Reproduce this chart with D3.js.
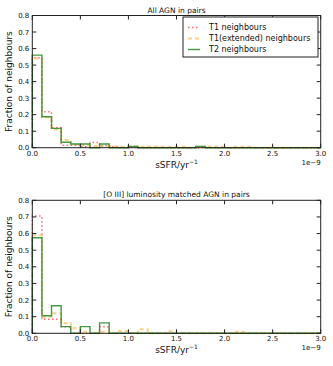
<!DOCTYPE html>
<html>
<head>
<meta charset="utf-8">
<script src="https://cdn.jsdelivr.net/npm/d3@7"></script>
<style>
  body { margin: 0; background: #fff; }
  text { font-family: "DejaVu Sans", sans-serif; fill: #111; }
</style>
</head>
<body>
<div id="vis"></div>
<script>
// bin edges: 30 bins of 0.1e-9 from 0 to 3.0e-9
const binEdges = d3.range(0, 31).map(i => i / 10);
const xTicks = [0, 0.5, 1.0, 1.5, 2.0, 2.5, 3.0];
const yTicks = [0, 0.1, 0.2, 0.3, 0.4, 0.5, 0.6, 0.7, 0.8];
const seriesNames = ['T1 neighbours', 'T1(extended) neighbours', 'T2 neighbours'];

// All AGN in pairs
const allT1 = [0.545, 0.218, 0.12, 0.015, 0.015, 0.005, 0.032, 0.012, 0.005, 0, 0.004, 0, 0, 0, 0, 0, 0, 0, 0, 0, 0, 0, 0, 0, 0, 0, 0, 0, 0, 0];
const allT1ext = [0.54, 0.185, 0.11, 0.047, 0.02, 0.015, 0.01, 0.008, 0.008, 0.005, 0.008, 0.005, 0.008, 0.005, 0.005, 0.005, 0, 0.005, 0.008, 0.005, 0, 0.005, 0.005, 0, 0, 0, 0, 0, 0, 0];
const allT2 = [0.56, 0.187, 0.117, 0.033, 0.022, 0.022, 0, 0.022, 0, 0, 0.008, 0, 0, 0, 0, 0, 0, 0.008, 0, 0, 0, 0, 0, 0, 0, 0, 0, 0, 0, 0];

// [O III] luminosity matched AGN in pairs
const oiiiT1 = [0.705, 0.085, 0.085, 0.04, 0, 0, 0, 0.04, 0, 0, 0, 0, 0, 0, 0, 0, 0, 0, 0, 0, 0, 0, 0, 0, 0, 0, 0, 0, 0, 0];
const oiiiT1ext = [0.59, 0.1, 0.12, 0.06, 0.03, 0.01, 0, 0.01, 0, 0.014, 0, 0.024, 0, 0, 0.012, 0, 0, 0, 0, 0, 0, 0.01, 0, 0, 0, 0, 0, 0, 0, 0];
const oiiiT2 = [0.575, 0.106, 0.166, 0.04, 0, 0.04, 0, 0.063, 0, 0, 0, 0, 0, 0, 0, 0, 0, 0, 0, 0, 0, 0, 0, 0, 0, 0, 0, 0, 0, 0];

const styles = [
  {color: '#ff3b3b', dash: '1.5,2.5', width: 1.5, opacity: 0.75},
  {color: '#ffaa22', dash: '4,3', width: 2, opacity: 0.55},
  {color: '#2f8f2f', dash: null, width: 1.4, opacity: 0.9}
];

const svg = d3.select('#vis')
  .append('svg')
  .attr('width', 333)
  .attr('height', 366);

const x = d3.scaleLinear().domain([0, 3]).range([32.3, 320.7]);

function drawPanel(top, bottom, title, data, withLegend) {
  const y = d3.scaleLinear().domain([0, 0.8]).range([bottom, top]);
  const g = svg.append('g');

  // step histograms
  data.forEach((vals, k) => {
    const pts = [[0, 0]];
    vals.forEach((v, i) => {
      pts.push([binEdges[i], v]);
      pts.push([binEdges[i + 1], v]);
    });
    pts.push([3, 0]);
    const st = styles[k];
    g.append('path')
      .attr('d', d3.line().x(d => x(d[0])).y(d => y(d[1]))(pts))
      .attr('fill', 'none')
      .attr('stroke', st.color)
      .attr('stroke-width', st.width)
      .attr('stroke-opacity', st.opacity)
      .attr('stroke-dasharray', st.dash);
  });

  // frame
  g.append('rect')
    .attr('x', x(0)).attr('y', top)
    .attr('width', x(3) - x(0)).attr('height', bottom - top)
    .attr('fill', 'none').attr('stroke', '#222').attr('stroke-width', 1);

  // ticks inside, all four sides
  xTicks.forEach(t => {
    g.append('line').attr('x1', x(t)).attr('x2', x(t)).attr('y1', bottom).attr('y2', bottom - 4).attr('stroke', '#222');
    g.append('line').attr('x1', x(t)).attr('x2', x(t)).attr('y1', top).attr('y2', top + 4).attr('stroke', '#222');
    g.append('text').attr('x', x(t)).attr('y', bottom + 8)
      .attr('text-anchor', 'middle').attr('font-size', 7).text(d3.format('.1f')(t));
  });
  yTicks.forEach(t => {
    g.append('line').attr('x1', x(0)).attr('x2', x(0) + 4).attr('y1', y(t)).attr('y2', y(t)).attr('stroke', '#222');
    g.append('line').attr('x1', x(3)).attr('x2', x(3) - 4).attr('y1', y(t)).attr('y2', y(t)).attr('stroke', '#222');
    g.append('text').attr('x', x(0) - 3).attr('y', y(t) + 2.5)
      .attr('text-anchor', 'end').attr('font-size', 7).text(d3.format('.1f')(t));
  });

  g.append('text').attr('x', x(3)).attr('y', bottom + 17)
    .attr('text-anchor', 'end').attr('font-size', 7).text('1e\u22129');

  g.append('text').attr('x', (x(0) + x(3)) / 2).attr('y', top - 3)
    .attr('text-anchor', 'middle').attr('font-size', 7.5).text(title);

  const xl = g.append('text').attr('x', (x(0) + x(3)) / 2).attr('y', bottom + 20)
    .attr('text-anchor', 'middle').attr('font-size', 9);
  xl.append('tspan').text('sSFR/yr');
  xl.append('tspan').attr('font-size', 6).attr('dy', -4).text('\u22121');

  g.append('text')
    .attr('transform', `translate(12,${(top + bottom) / 2}) rotate(-90)`)
    .attr('text-anchor', 'middle').attr('font-size', 9).text('Fraction of neighbours');

  if (withLegend) {
    const lg = g.append('g');
    lg.append('rect').attr('x', 183).attr('y', 17).attr('width', 135).attr('height', 40)
      .attr('fill', '#fff').attr('stroke', '#222').attr('stroke-width', 1);
    seriesNames.forEach((name, k) => {
      const ly = 27.5 + k * 11;
      const st = styles[k];
      lg.append('line').attr('x1', 188).attr('x2', 200).attr('y1', ly).attr('y2', ly)
        .attr('stroke', st.color).attr('stroke-width', st.width)
        .attr('stroke-opacity', st.opacity).attr('stroke-dasharray', st.dash);
      lg.append('text').attr('x', 209).attr('y', ly + 2.8).attr('font-size', 8).text(name);
    });
  }
}

drawPanel(15.5, 147.7, 'All AGN in pairs', [allT1, allT1ext, allT2], true);
drawPanel(200.3, 333.3, '[O III] luminosity matched AGN in pairs', [oiiiT1, oiiiT1ext, oiiiT2], false);
</script>
</body>
</html>
